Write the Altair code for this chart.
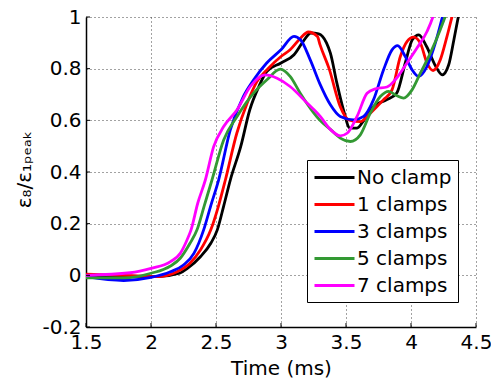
import altair as alt
import pandas as pd

series_names = ["No clamp", "1 clamps", "3 clamps", "5 clamps", "7 clamps"]
series_colors = ["#000000", "#ff0000", "#0000ff", "#339933", "#ff00ff"]

t_black = [1.5, 1.84, 2.05, 2.22, 2.28, 2.38, 2.46, 2.51, 2.56, 2.61, 2.69, 2.76, 2.83, 2.89, 3.0, 3.1, 3.17, 3.23,
           3.29, 3.35, 3.38, 3.43, 3.48, 3.53, 3.585, 3.64, 3.71, 3.815, 3.89, 3.956, 4.01, 4.06, 4.12, 4.19, 4.24,
           4.29, 4.33, 4.37, 4.4]
y_black = [0.0, -0.003, -0.005, 0.008, 0.027, 0.072, 0.124, 0.176, 0.27, 0.369, 0.498, 0.641, 0.731, 0.789, 0.822,
           0.854, 0.905, 0.938, 0.935, 0.9, 0.86, 0.744, 0.641, 0.57, 0.57, 0.602, 0.653, 0.68, 0.705, 0.822, 0.912,
           0.931, 0.886, 0.809, 0.776, 0.815, 0.912, 1.015, 1.08]

t_red = [1.5, 1.8, 2.05, 2.2, 2.3, 2.38, 2.46, 2.52, 2.572, 2.66, 2.74, 2.815, 2.9, 3.0, 3.07, 3.15, 3.21, 3.28, 3.3,
         3.37, 3.456, 3.52, 3.61, 3.687, 3.789, 3.854, 3.918, 3.969, 4.02, 4.072, 4.123, 4.17, 4.225, 4.277, 4.323,
         4.36]
y_red = [0.005, 0.0, -0.005, 0.014, 0.047, 0.098, 0.176, 0.27, 0.369, 0.55, 0.667, 0.75, 0.80, 0.847, 0.873, 0.918,
         0.942, 0.925, 0.893, 0.80, 0.653, 0.602, 0.595, 0.628, 0.68, 0.718, 0.847, 0.905, 0.922, 0.899, 0.822, 0.793,
         0.834, 0.925, 1.015, 1.08]

t_blue = [1.5, 1.79, 2.0, 2.15, 2.25, 2.33, 2.405, 2.46, 2.52, 2.61, 2.71, 2.79, 2.89, 3.0, 3.1, 3.15, 3.225, 3.3,
          3.38, 3.456, 3.559, 3.636, 3.712, 3.789, 3.854, 3.897, 3.956, 4.008, 4.058, 4.123, 4.187, 4.246, 4.28]
y_blue = [-0.005, -0.02, -0.008, 0.014, 0.04, 0.085, 0.176, 0.27, 0.369, 0.563, 0.692, 0.757, 0.822, 0.873, 0.925,
          0.912, 0.834, 0.74, 0.66, 0.615, 0.602, 0.615, 0.68, 0.796, 0.873, 0.889, 0.847, 0.796, 0.77, 0.809, 0.899,
          1.009, 1.08]

t_green = [1.5, 1.79, 2.0, 2.15, 2.225, 2.3, 2.354, 2.41, 2.469, 2.559, 2.662, 2.789, 2.892, 2.995, 3.07, 3.148, 3.25,
           3.3, 3.38, 3.456, 3.533, 3.61, 3.687, 3.764, 3.828, 3.892, 3.943, 4.008, 4.072, 4.149, 4.225, 4.272, 4.31]
y_green = [-0.01, -0.01, 0.008, 0.036, 0.066, 0.124, 0.176, 0.27, 0.369, 0.524, 0.615, 0.705, 0.757, 0.798, 0.77,
           0.705, 0.63, 0.60, 0.565, 0.531, 0.518, 0.544, 0.628, 0.692, 0.712, 0.695, 0.686, 0.718, 0.783, 0.86, 0.951,
           1.015, 1.08]

t_magenta = [1.5, 1.84, 2.0, 2.15, 2.225, 2.277, 2.308, 2.36, 2.418, 2.482, 2.559, 2.662, 2.764, 2.88, 2.97, 3.07,
             3.2, 3.302, 3.379, 3.456, 3.508, 3.585, 3.662, 3.725, 3.815, 3.879, 3.969, 4.046, 4.123, 4.174, 4.21]
y_magenta = [0.0, 0.01, 0.027, 0.053, 0.085, 0.137, 0.176, 0.28, 0.369, 0.498, 0.576, 0.641, 0.731, 0.776, 0.763,
             0.731, 0.667, 0.615, 0.565, 0.54, 0.55, 0.615, 0.705, 0.722, 0.729, 0.757, 0.822, 0.88, 0.944, 1.009, 1.08]

x_ticks = [1.5, 2, 2.5, 3, 3.5, 4, 4.5]
y_ticks = [-0.2, 0, 0.2, 0.4, 0.6, 0.8, 1]

all_t = [t_black, t_red, t_blue, t_green, t_magenta]
all_y = [y_black, y_red, y_blue, y_green, y_magenta]

rows = []
for name, ts, ys in zip(series_names, all_t, all_y):
    for i, (t, y) in enumerate(zip(ts, ys)):
        rows.append({"series": name, "t": t, "y": y, "i": i})
df = pd.DataFrame(rows)

W, H = 390, 310
FONT = "DejaVu Sans"

xscale = alt.Scale(domain=[1.5, 4.5], nice=False, zero=False)
yscale = alt.Scale(domain=[-0.2, 1], nice=False, zero=False)

lines = alt.Chart(df).mark_line(strokeWidth=2.8, interpolate="monotone", clip=True).encode(
    x=alt.X("t:Q", scale=xscale,
            axis=alt.Axis(values=x_ticks, labelExpr="'' + datum.value", title="Time (ms)",
                          titleX=W / 2, titleY=47.5, titleBaseline="alphabetic",
                          labelPadding=5, labelFlush=False, labelOverlap=False)),
    y=alt.Y("y:Q", scale=yscale,
            axis=alt.Axis(values=y_ticks, labelExpr="'' + datum.value", title="ε₈/ε₁ₚₑₐₖ",
                          titleX=-62, titleY=H / 2 - 3, titleAngle=-90, titleBaseline="middle",
                          titleAlign="center", labelPadding=5, labelFlush=False, labelOverlap=False)),
    color=alt.Color("series:N", scale=alt.Scale(domain=series_names, range=series_colors),
                    legend=alt.Legend(title=None, orient="none", legendX=221, legendY=143,
                                      symbolType="M-1,0H3", symbolSize=400, symbolStrokeWidth=2.8,
                                      labelFont=FONT, labelFontSize=20, labelColor="#000",
                                      labelOffset=21, rowPadding=5, padding=6,
                                      strokeColor="#000", fillColor="#fff", labelLimit=300)),
    order="i:Q",
)

xtick_df = pd.DataFrame({"v": x_ticks})
ytick_df = pd.DataFrame({"v": y_ticks})
xt = alt.Chart(xtick_df).mark_rule(color="#000", strokeWidth=1).encode(
    x=alt.X("v:Q", scale=xscale), y=alt.value(H), y2=alt.value(H - 4))
yt = alt.Chart(ytick_df).mark_rule(color="#000", strokeWidth=1).encode(
    y=alt.Y("v:Q", scale=yscale), x=alt.value(0), x2=alt.value(4))

chart = alt.layer(lines, xt, yt).properties(
    width=W, height=H,
    autosize=alt.AutoSizeParams(type="none"),
    padding={"left": 86, "top": 17, "right": 15, "bottom": 54},
    background="white",
).configure_view(stroke=None).configure_axis(
    labelFont=FONT, labelFontSize=20, labelColor="#000",
    titleFont=FONT, titleFontSize=20, titleColor="#000", titleFontWeight="normal",
    domainColor="#000", domainWidth=1.5, ticks=False,
    grid=True, gridColor="#444", gridDash=[1, 3], gridOpacity=1, gridWidth=1,
)

chart.save("out.html", embed_options={"renderer": "svg", "actions": False})
